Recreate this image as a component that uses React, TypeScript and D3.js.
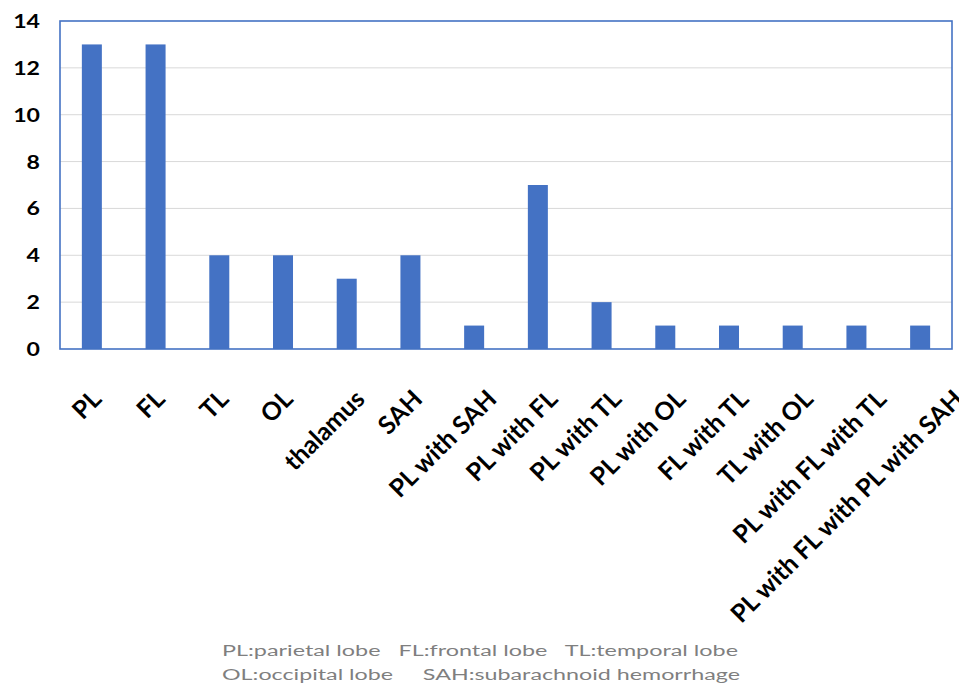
import React, { useEffect, useRef } from "react";
import * as d3 from "d3";

const categories = [
  "PL", "FL", "TL", "OL", "thalamus", "SAH", "PL with SAH", "PL with FL",
  "PL with TL", "PL with OL", "FL with TL", "TL with OL", "PL with FL with TL",
  "PL with FL with PL with SAH",
];
const counts = [13, 13, 4, 4, 3, 4, 1, 7, 2, 1, 1, 1, 1, 1];
const yTicks = [0, 2, 4, 6, 8, 10, 12, 14];
const legendLines = [
  "PL:parietal lobe   FL:frontal lobe   TL:temporal lobe",
  "OL:occipital lobe     SAH:subarachnoid hemorrhage",
];

const W = 967;
const H = 699;
const M = { left: 60, right: 15, top: 21, bottom: 350 };
const BLUE = "#4472C4";
const SX = 1.25;
const CAT_FONT = 25;

export default function App() {
  const ref = useRef<SVGSVGElement | null>(null);

  useEffect(() => {
    const svg = d3.select(ref.current);
    svg.selectAll("*").remove();

    const x = d3
      .scaleBand<string>()
      .domain(categories)
      .range([M.left, W - M.right])
      .paddingInner(0.686)
      .paddingOuter(0.343);
    const y = d3.scaleLinear().domain([0, 14]).range([H - M.bottom, M.top]);

    svg.append("rect").attr("width", W).attr("height", H).attr("fill", "#fff");

    // gridlines
    svg
      .append("g")
      .selectAll("line")
      .data(yTicks.filter((t) => t > 0 && t < 14))
      .join("line")
      .attr("x1", M.left)
      .attr("x2", W - M.right)
      .attr("y1", (d) => y(d))
      .attr("y2", (d) => y(d))
      .attr("stroke", "#d9d9d9")
      .attr("stroke-width", 1);

    // bars
    svg
      .append("g")
      .selectAll("rect")
      .data(categories)
      .join("rect")
      .attr("x", (d) => x(d)!)
      .attr("width", x.bandwidth())
      .attr("y", (d, i) => y(counts[i]))
      .attr("height", (d, i) => y(0) - y(counts[i]))
      .attr("fill", BLUE);

    // plot border
    svg
      .append("rect")
      .attr("x", M.left)
      .attr("y", M.top)
      .attr("width", W - M.right - M.left)
      .attr("height", y(0) - M.top)
      .attr("fill", "none")
      .attr("stroke", BLUE)
      .attr("stroke-width", 1.6);

    // y tick labels
    svg
      .append("g")
      .selectAll("text")
      .data(yTicks)
      .join("text")
      .attr("transform", (d) => `translate(40,${y(d) + 7}) scale(${SX},1)`)
      .attr("text-anchor", "end")
      .attr("font-family", "Lato")
      .attr("font-weight", "bold")
      .attr("font-size", 18.5)
      .attr("fill", "#000")
      .text((d) => d);

    // category labels
    const capH = 0.7165 * CAT_FONT * 0.707;
    const labels = svg
      .append("g")
      .selectAll("text")
      .data(categories)
      .join("text")
      .attr("text-anchor", "end")
      .attr("font-family", "Lato")
      .attr("font-weight", "bold")
      .attr("font-size", CAT_FONT)
      .attr("fill", "#000")
      .text((d) => d);
    labels.each(function (d) {
      const el = this as SVGTextElement;
      const L = el.getComputedTextLength();
      const Hx = 0.707 * L;
      const cx = x(d)! + x.bandwidth() / 2;
      const x0 = cx + 0.165 * Hx - 5 + capH;
      const y0 = 388 + capH;
      d3.select(el).attr("transform", `translate(${x0},${y0}) rotate(-45)`);
    });

    // legend notes
    svg
      .append("g")
      .selectAll("text")
      .data(legendLines)
      .join("text")
      .attr("x", 222)
      .attr("y", (d, i) => 656 + i * 24)
      .attr("font-family", "Lato")
      .attr("font-size", 15.5)
      .attr("fill", "#7f7f7f")
      .attr("textLength", (d, i) => (i === 0 ? 516 : 518))
      .attr("lengthAdjust", "spacingAndGlyphs")
      .style("white-space", "pre")
      .text((d) => d);
  }, []);

  return (
    <div style={{ margin: -8 }}>
      <svg ref={ref} width={W} height={H} style={{ display: "block" }} />
    </div>
  );
}
